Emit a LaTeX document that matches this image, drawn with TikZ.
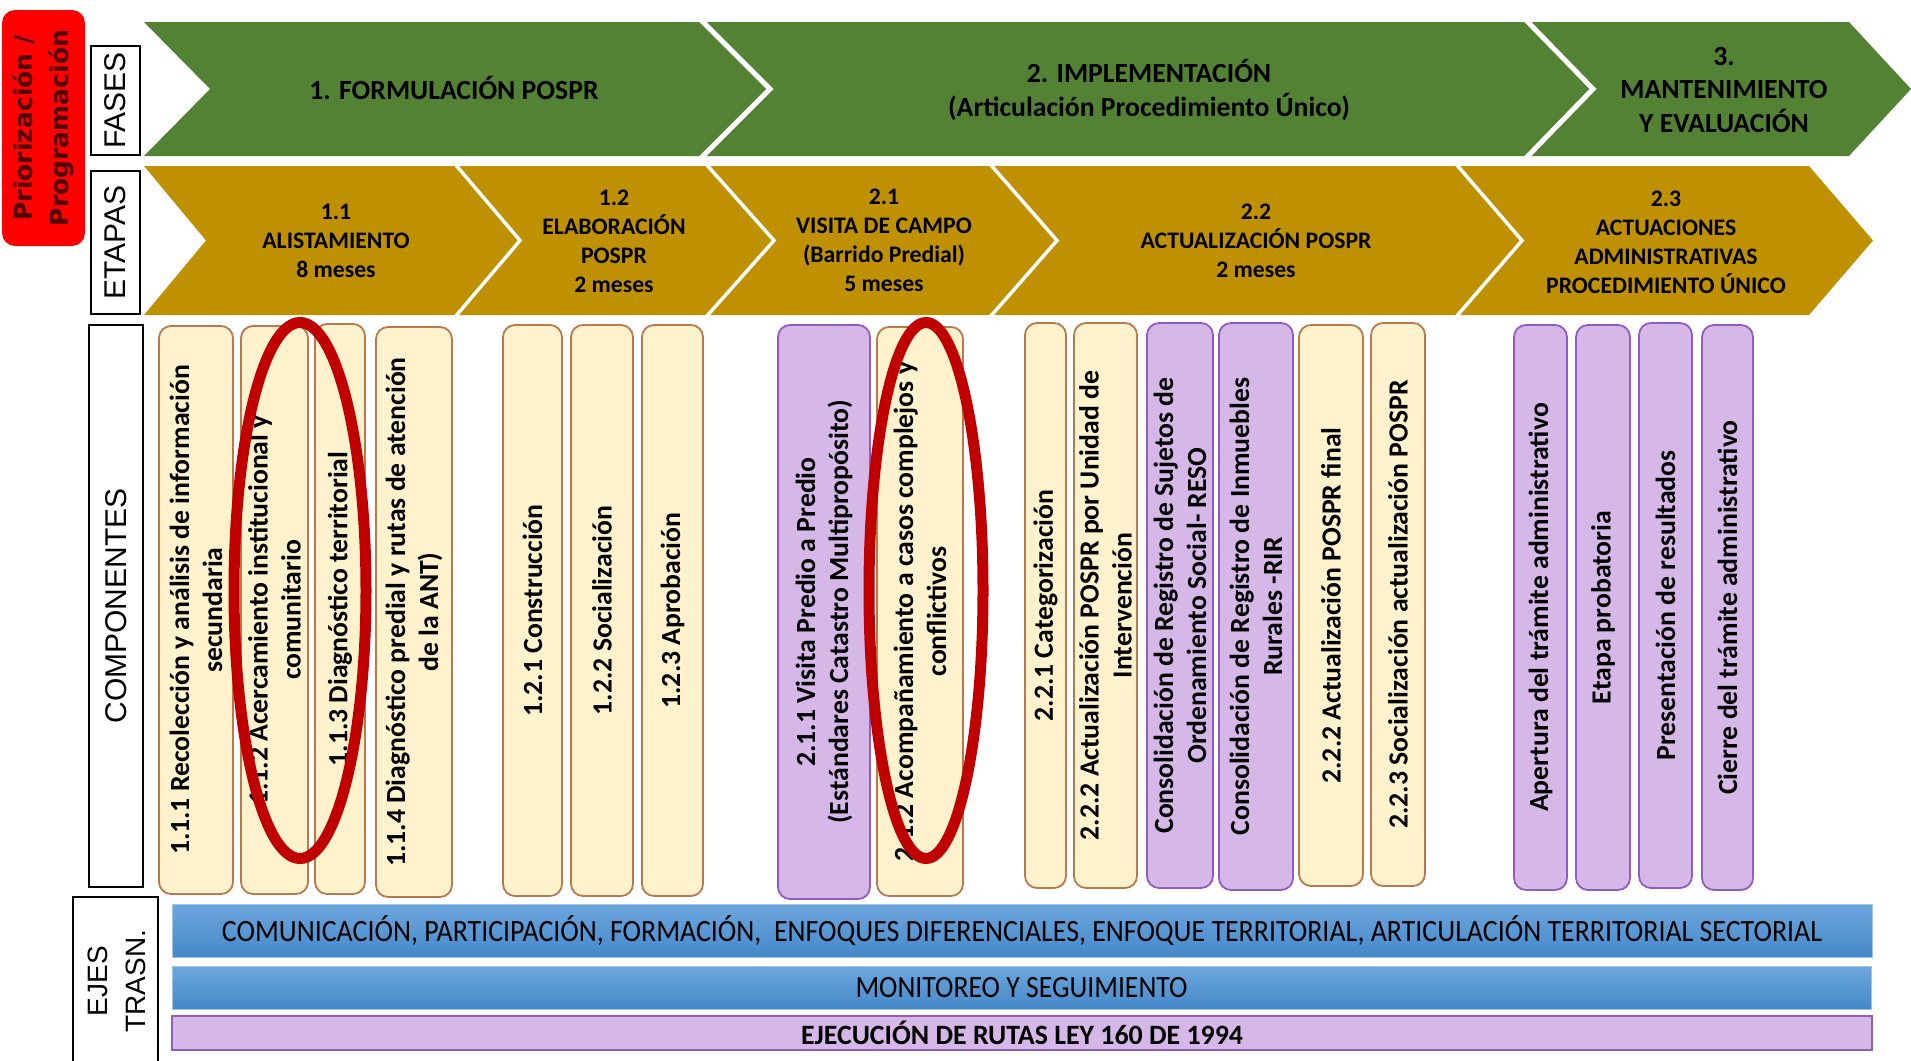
\documentclass[tikz,border=0pt]{standalone}
\usepackage{fontspec}
\usepackage{graphicx}
\setmainfont{Carlito}
\newfontfamily\arialf{Liberation Sans}
\newfontfamily\verdf{DejaVu Sans}
\definecolor{fgreen}{RGB}{84,130,53}
\definecolor{fgold}{RGB}{191,144,0}
\definecolor{yfill}{RGB}{255,242,204}
\definecolor{ybord}{RGB}{184,122,76}
\definecolor{pfill}{RGB}{213,183,232}
\definecolor{pbord}{RGB}{145,92,192}
\definecolor{btop}{RGB}{110,167,222}
\definecolor{bbot}{RGB}{68,136,200}
\definecolor{bbord}{RGB}{160,196,230}
\definecolor{maroon}{RGB}{80,0,0}
\definecolor{ellc}{RGB}{192,0,0}
\tikzset{
  lab/.style={draw=black, line width=1.3pt, fill=white, rotate=90, inner sep=0pt, align=center, font=\arialf\fontsize{30}{34}\selectfont},
  ybox/.style={draw=ybord, fill=yfill, line width=1.8pt, rounded corners=12pt, rotate=90, inner sep=0pt, align=center, font=\bfseries\fontsize{27.7}{33}\selectfont},
  pbox/.style={ybox, draw=pbord, fill=pfill},
  sepg/.style={draw=white, line width=5pt},
  sepy/.style={draw=white, line width=3.5pt},
  phase/.style={align=center, inner sep=0pt, font=\bfseries\fontsize{27.7}{33.5}\selectfont},
  stage/.style={align=center, inner sep=0pt, font=\bfseries\fontsize{23.7}{29}\selectfont},
  bluebar/.style={draw=bbord, line width=1pt, top color=btop, bottom color=bbot, inner sep=0pt},
  purplebar/.style={draw=pbord, line width=1.8pt, fill=pfill, inner sep=0pt},
  ring/.style={draw=ellc, line width=11pt}
}
\begin{document}
\begin{tikzpicture}[x=1pt,y=-1pt]
\useasboundingbox (0,0) rectangle (1911,1060);

% ---------- FASES (green chevrons)
\fill[fgreen] (144,22)--(700,22)--(770,89)--(700,156)--(144,156)--(210,89)--cycle;
\fill[fgreen] (700,22)--(1525,22)--(1593,89)--(1525,156)--(700,156)--(770,89)--cycle;
\fill[fgreen] (1525,22)--(1849,22)--(1911,89)--(1849,156)--(1525,156)--(1593,89)--cycle;
\draw[sepg] (700,19)--(770,89)--(700,159);
\draw[sepg] (1525,19)--(1593,89)--(1525,159);

% ---------- ETAPAS (gold chevrons)
\fill[fgold] (144,166)--(455,166)--(520,240.5)--(455,315)--(144,315)--(206,240.5)--cycle;
\fill[fgold] (455,166)--(706,166)--(774,240.5)--(706,315)--(455,315)--(520,240.5)--cycle;
\fill[fgold] (706,166)--(990,166)--(1057,240.5)--(990,315)--(706,315)--(774,240.5)--cycle;
\fill[fgold] (990,166)--(1456,166)--(1522,240.5)--(1456,315)--(990,315)--(1057,240.5)--cycle;
\fill[fgold] (1456,166)--(1809,166)--(1873,240.5)--(1809,315)--(1456,315)--(1522,240.5)--cycle;
\draw[sepy] (455,164)--(520,240.5)--(455,317);
\draw[sepy] (706,164)--(774,240.5)--(706,317);
\draw[sepy] (990,164)--(1057,240.5)--(990,317);
\draw[sepy] (1456,164)--(1522,240.5)--(1456,317);

% phase texts
\node[phase] (p1) at (454,88) {1. FORMULACIÓN POSPR};
\node[phase] (p2) at (1149,90) {2. IMPLEMENTACIÓN\\(Articulación Procedimiento Único)};
\node[phase] (p3) at (1724,90) {3.\\MANTENIMIENTO\\Y EVALUACIÓN};

% stage texts
\node[stage] (s11) at (336,241) {1.1\\ALISTAMIENTO\\8 meses};
\node[stage] (s12) at (614,241) {1.2\\ELABORACIÓN\\POSPR\\2 meses};
\node[stage] (s21) at (884,240) {2.1\\VISITA DE CAMPO\\(Barrido Predial)\\5 meses};
\node[stage] (s22) at (1256,241) {2.2\\ACTUALIZACIÓN POSPR\\2 meses};
\node[stage] (s23) at (1666,242) {2.3\\ACTUACIONES\\ADMINISTRATIVAS\\PROCEDIMIENTO ÚNICO};

% ---------- left labels
\node[fill=red, rounded corners=13pt, rotate=90, minimum width=236pt, minimum height=83pt, inner sep=0pt, align=center, text=maroon, font=\verdf\bfseries\fontsize{25}{36}\selectfont] (prior) at (43.5,128) {Priorización /\\Programación};
\node[lab, minimum width=109pt, minimum height=49pt] (fases) at (115.5,100.5) {FASES};
\node[lab, minimum width=143pt, minimum height=49pt] (etapas) at (115.5,242.5) {ETAPAS};
\node[lab, minimum width=562pt, minimum height=54pt] (comp) at (116,606) {COMPONENTES};
\draw[black, line width=1.3pt] (73,1062)--(73,897)--(158,897)--(158,1062);
\node[rotate=90, align=center, inner sep=0pt, font=\arialf\fontsize{28}{38}\selectfont] (ejes) at (117,981) {EJES\\TRASN.};

% ---------- componentes
\node[ybox, minimum width=568pt, minimum height=74pt] (c111) at (196,610) {1.1.1 Recolección y análisis de información\\secundaria};
\node[ybox, minimum width=568pt, minimum height=67pt] (c112) at (274.5,610) {1.1.2 Acercamiento institucional y\\comunitario};
\node[ybox, minimum width=570pt, minimum height=50pt] (c113) at (340,609) {1.1.3 Diagnóstico territorial};
\node[ybox, minimum width=570pt, minimum height=76pt] (c114) at (414,612) {1.1.4 Diagnóstico predial y rutas de atención\\de la ANT)};
\node[ybox, minimum width=571pt, minimum height=59pt] (c121) at (532.5,610.5) {1.2.1 Construcción};
\node[ybox, minimum width=571pt, minimum height=62pt] (c122) at (602,610.5) {1.2.2 Socialización};
\node[ybox, minimum width=571pt, minimum height=61pt] (c123) at (672.5,610.5) {1.2.3 Aprobación};
\node[pbox, minimum width=574pt, minimum height=92pt] (c211) at (824,612) {2.1.1 Visita Predio a Predio\\(Estándares Catastro Multipropósito)};
\node[ybox, minimum width=569pt, minimum height=86pt] (c212) at (920,611.5) {2.1.2 Acompañamiento a casos complejos y\\conflictivos};
\node[ybox, minimum width=565pt, minimum height=41pt] (c221) at (1045.5,605.5) {2.2.1 Categorización};
\node[ybox, minimum width=565pt, minimum height=63pt] (c222) at (1105.5,605.5) {2.2.2 Actualización POSPR por Unidad de\\Intervención};
\node[pbox, minimum width=565pt, minimum height=66pt] (creso) at (1180,605.5) {Consolidación de Registro de Sujetos de\\Ordenamiento Social- RESO};
\node[pbox, minimum width=567pt, minimum height=74pt] (crir) at (1256,606.5) {Consolidación de Registro de Inmuebles\\Rurales -RIR};
\node[ybox, minimum width=561pt, minimum height=64pt] (cfin) at (1331,605.5) {2.2.2 Actualización POSPR final};
\node[ybox, minimum width=563pt, minimum height=54pt] (c223) at (1398,604.5) {2.2.3 Socialización actualización POSPR};
\node[pbox, minimum width=565pt, minimum height=53pt] (cap) at (1540.5,607.5) {Apertura del trámite administrativo};
\node[pbox, minimum width=565pt, minimum height=54pt] (cet) at (1603,607.5) {Etapa probatoria};
\node[pbox, minimum width=565pt, minimum height=53pt] (cpr) at (1665.5,605.5) {Presentación de resultados};
\node[pbox, minimum width=565pt, minimum height=51pt] (cci) at (1727.5,607.5) {Cierre del trámite administrativo};

% ---------- ejes transversales
\node[bluebar, minimum width=1700pt, minimum height=53pt] (eje1) at (1022,930.5) {\resizebox{1600pt}{\height}{\fontsize{31}{31}\selectfont COMUNICACIÓN, PARTICIPACIÓN, FORMACIÓN,\ \ ENFOQUES DIFERENCIALES, ENFOQUE TERRITORIAL, ARTICULACIÓN TERRITORIAL SECTORIAL}};
\node[bluebar, minimum width=1699pt, minimum height=43pt] (eje2) at (1021.5,987.5) {\resizebox{332pt}{\height}{\fontsize{31}{31}\selectfont MONITOREO Y SEGUIMIENTO}};
\node[purplebar, minimum width=1700pt, minimum height=34pt] (eje3) at (1022,1033) {\resizebox{442pt}{\height}{\bfseries\fontsize{28}{28}\selectfont EJECUCIÓN DE RUTAS LEY 160 DE 1994}};

% ---------- red ellipses
\draw[ring] (300,590.5) ellipse [x radius=66, y radius=268];
\draw[ring] (926,590.5) ellipse [x radius=57, y radius=268];
\end{tikzpicture}
\end{document}
